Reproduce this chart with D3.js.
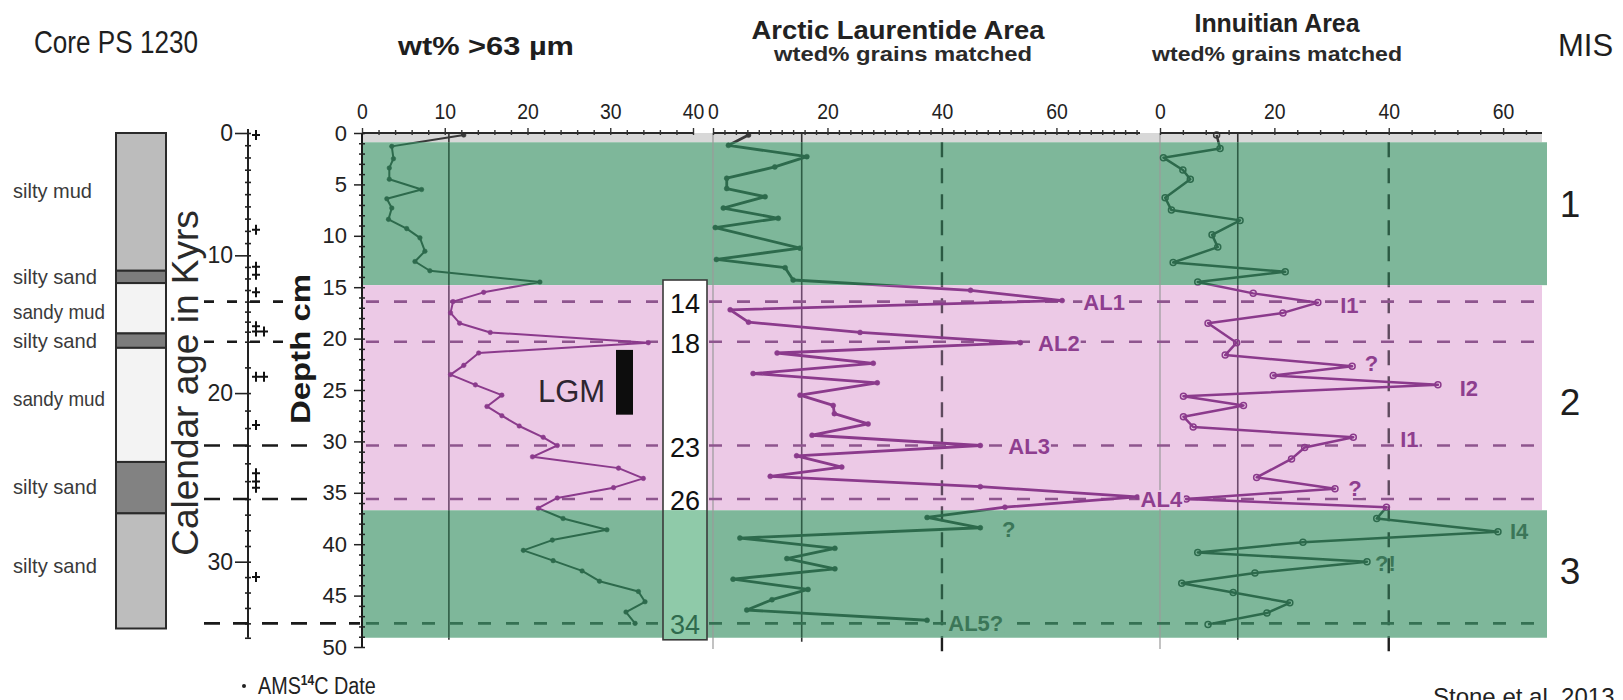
<!DOCTYPE html>
<html>
<head>
<meta charset="utf-8">
<script src="https://cdn.jsdelivr.net/npm/d3@7/dist/d3.min.js"></script>
<style>
html,body{margin:0;padding:0;background:#fff;}
svg{display:block;}
text{font-family:"Liberation Sans",Arial,Helvetica,sans-serif;}
</style>
</head>
<body>
<svg id="chart" width="1623" height="700"></svg>
<script>
// ================= DATA =================
// wt% >63 µm (depth cm, value)
const wtDepth = [0.2,1.3,2.5,3.4,4.5,5.5,6.4,7.3,8.4,9.3,10.2,11.5,12.5,13.4,14.5,15.5,16.4,17.5,18.5,19.4,20.4,21.4,22.6,23.5,24.5,25.5,26.6,27.5,28.5,29.6,30.4,31.5,32.6,33.6,34.5,35.5,36.5,37.5,38.6,39.6,40.6,41.6,42.6,43.6,44.6,45.6,46.6,47.7];
const wtVal   = [12.3,3.6,3.8,3.3,3.3,7.2,3.0,3.6,3.2,5.4,7.0,7.6,6.4,8.2,21.5,14.7,11.0,10.7,11.8,15.5,34.6,14.1,12.3,10.7,13.7,16.9,15.1,16.9,19.0,21.9,23.6,20.6,31.0,34.0,30.4,23.6,21.3,24.3,29.6,23.0,19.5,23.1,26.6,28.7,33.4,34.2,31.9,33.0];
// Arctic Laurentide Area, wted% grains matched
const alDepth = [0.2,1.2,2.3,3.3,4.4,5.4,6.2,7.3,8.3,9.2,11.2,12.3,13.1,14.3,15.3,16.3,17.2,18.4,19.4,20.4,21.4,22.4,23.4,24.3,25.5,26.5,27.3,28.3,29.4,30.4,31.4,32.5,33.4,34.4,35.4,36.4,37.4,38.4,39.4,40.4,41.4,42.4,43.4,44.4,45.4,46.4,47.4];
const alVal   = [6.2,2.7,16.4,10.8,2.4,2.4,9.1,1.8,11.4,0.4,15.2,0.6,12.6,14.0,45.0,61.0,3.0,6.2,25.7,53.7,11.2,28.0,7.0,28.7,15.2,21.0,21.2,27.1,17.3,46.7,14.6,22.5,10.0,46.7,74.1,51.0,37.4,46.7,4.7,21.3,12.9,21.3,3.5,16.6,10.3,5.9,37.4];
// Innuitian Area, wted% grains matched
const inDepth = [0.2,1.5,2.4,3.6,4.5,6.3,7.5,8.5,9.9,11.1,12.6,13.5,14.5,15.6,16.5,17.5,18.5,20.4,21.6,22.7,23.6,24.5,25.6,26.5,27.6,28.6,29.6,30.6,31.7,33.5,34.6,35.6,36.4,37.5,38.8,39.8,40.8,41.7,42.8,43.8,44.7,45.7,46.7,47.8];
const inVal   = [9.9,10.5,0.6,4.0,5.3,0.9,2.0,14.0,9.1,10.1,2.3,21.9,6.6,16.3,27.6,21.5,8.4,13.4,11.4,33.6,19.8,48.6,4.1,14.6,4.1,5.8,33.8,25.3,23.0,16.9,30.6,4.6,39.6,37.9,59.1,25.0,6.6,36.2,16.6,3.8,12.8,22.7,18.7,8.4];
// reference (mean) lines
const wtRef = 10.5, alRef = 15.5, inRef = 13.6, grainDashRef = 40;

// event horizons (depth cm) and their ages (kyr)
const horizonDepth = [16.4,20.3,30.4,35.6,47.7];
const horizonAge   = ["14","18","23","26","34"];

// MIS bands (depth cm)
const bandTop    = [0.9,14.8,36.7];
const bandBottom = [14.8,36.7,49.1];
const bandKind   = ["green","pink","green"];
const misLabel   = ["1","2","3"];
const misDepth   = [6.9,26.2,42.6];

// lithology
const lithTop    = [0.0,13.4,14.6,19.5,20.9,32.0,37.0];
const lithBottom = [13.4,14.6,19.5,20.9,32.0,37.0,48.2];
const lithShade  = ["#bcbcbc","#7c7c7c","#f3f3f3","#7c7c7c","#f3f3f3","#828282","#bdbdbd"];
const lithName   = ["silty mud","silty sand","sandy mud","silty sand","sandy mud","silty sand","silty sand"];
const lithLabelDepth = [5.7,14.1,17.5,20.3,26.0,34.5,42.2];

// age model (calendar kyr ↔ depth cm) and AMS 14C date depths
const ageAnchor      = [0,10,14,18,20,23,26,30,34,35];
const ageAnchorDepth = [0,11.9,16.4,20.3,25.3,30.4,35.6,41.7,47.7,49.1];
const ageMajorTicks  = [0,10,20,30];
const amsDepth = [0.2,9.4,13.0,13.8,15.5,18.8,19.3,19.3,23.7,23.7,28.4,33.1,33.9,34.5,43.2];

// LGM interval (depth cm)
const lgmDepth = [21.1,27.4];

// panel annotations
const annText  = ["AL1","AL2","AL3","AL4","?","AL5?","I1","?","I2","I1","?","I4","?!"];
const annPanel = ["AL","AL","AL","AL","AL","AL","IN","IN","IN","IN","IN","IN","IN"];
const annVal   = [64.7,56.8,51.6,74.7,50.5,41.1,31.5,35.8,52.4,42.0,32.9,61.2,37.6];
const annDepth = [17.2,21.2,31.2,36.4,39.3,48.4,17.5,23.2,25.6,30.5,35.3,39.5,42.6];

// ================= SCALES =================
const svg = d3.select("#chart");
const yD  = d3.scaleLinear().domain([0,50]).range([133,647]);
const xWt = d3.scaleLinear().domain([0,40]).range([362,693]);
const xAL = d3.scaleLinear().domain([0,74.6]).range([713,1140]);
const xIN = d3.scaleLinear().domain([0,66.8]).range([1160,1542]);
const yAge = d3.scaleLinear().domain(ageAnchor).range(ageAnchorDepth.map(d => yD(d)));

const GREEN = "#7eb79a", PINK = "#ecc9e6", STRIP = "#d8d8d8";
const MONO = '"Liberation Mono","DejaVu Sans Mono",monospace';

// ================= LITHOLOGY =================
const litho = svg.append("g");
litho.selectAll("rect").data(lithTop).join("rect")
  .attr("x",116).attr("width",50)
  .attr("y",(d)=>yD(d)).attr("height",(d,i)=>yD(lithBottom[i])-yD(d))
  .attr("fill",(d,i)=>lithShade[i]).attr("stroke","#2a2a2a").attr("stroke-width",2);
const lithW = {"silty mud":79,"silty sand":84,"sandy mud":92};
litho.selectAll("text").data(lithName).join("text")
  .attr("x",13).attr("y",(d,i)=>yD(lithLabelDepth[i])+6)
  .attr("font-size",21).attr("fill","#3a3a3a")
  .attr("textLength",d=>lithW[d]).attr("lengthAdjust","spacingAndGlyphs")
  .text(d=>d);

// ================= AGE AXIS =================
const ageAxis = d3.axisLeft(yAge).tickValues(d3.range(0,36,1)).tickSize(0).tickPadding(15)
  .tickFormat(d => ageMajorTicks.includes(d) ? d : "");
const gAge = svg.append("g").attr("transform","translate(248,0)").call(ageAxis);
gAge.select(".domain").attr("d",`M0,${yAge(0)-4}V${yAge(35)}`).attr("stroke","#222").attr("stroke-width",2);
gAge.selectAll(".tick line").attr("x1",d=>ageMajorTicks.includes(d)?-13:-3).attr("x2",3)
  .attr("stroke","#222").attr("stroke-width",1.6);
gAge.selectAll(".tick text").attr("font-size",23).attr("fill","#222").attr("font-family",'"Liberation Sans",Arial,sans-serif');

// AMS markers
const amsSeen = {};
svg.append("g").selectAll("path").data(amsDepth).join("path")
  .attr("transform",d=>{const k=amsSeen[d]||0; amsSeen[d]=k+1; return `translate(${256+k*8},${yD(d)})`;})
  .attr("d","M-4,0H4M0,-5V5").attr("stroke","#111").attr("stroke-width",2);

// age axis label
svg.append("text").attr("transform","translate(198,383) rotate(-90)")
  .attr("text-anchor","middle").attr("font-size",37).attr("fill","#2a2a2a")
  .text("Calendar age in Kyrs");

// left black dashed horizon lines
const leftEnd = [290,290,312,312,360];
svg.append("g").selectAll("line").data(horizonDepth).join("line")
  .attr("x1",204).attr("x2",(d,i)=>leftEnd[i]).attr("y1",d=>yD(d)).attr("y2",d=>yD(d))
  .attr("stroke","#1a1a1a").attr("stroke-width",2.6).attr("stroke-dasharray",(d,i)=>i<2?"10,13":"16,13");

// Depth label
svg.append("text").attr("transform","translate(310,349) rotate(-90)")
  .attr("text-anchor","middle").attr("font-size",28).attr("font-weight","bold").attr("fill","#1a1a1a")
  .attr("textLength",150).attr("lengthAdjust","spacingAndGlyphs")
  .text("Depth cm");

// ================= BANDS =================
const bands = svg.append("g");
bands.append("rect").attr("x",362).attr("width",1542-362).attr("y",yD(0)).attr("height",yD(bandTop[0])-yD(0)).attr("fill",STRIP);
bands.selectAll("rect.band").data(bandTop).join("rect").attr("class","band")
  .attr("x",362).attr("width",(d,i)=>bandKind[i]==="green"?1547-362:1542-362)
  .attr("y",d=>yD(d)).attr("height",(d,i)=>yD(bandBottom[i])-yD(d))
  .attr("fill",(d,i)=>bandKind[i]==="green"?GREEN:PINK);
// age column box
const boxTop = yD(14.3), boxBot = yD(49.3);
bands.append("rect").attr("x",663).attr("width",44).attr("y",boxTop).attr("height",yD(bandBottom[1])-boxTop).attr("fill","#ffffff");
bands.append("rect").attr("x",663).attr("width",44).attr("y",yD(bandTop[2])).attr("height",boxBot-yD(bandTop[2])).attr("fill","#8fcaa9");
bands.append("rect").attr("x",663).attr("width",44).attr("y",boxTop).attr("height",boxBot-boxTop)
  .attr("fill","none").attr("stroke","#3a3a3a").attr("stroke-width",1.6);

// panel left borders
svg.append("g").selectAll("line").data([xAL(0),xIN(0)]).join("line")
  .attr("x1",d=>d).attr("x2",d=>d).attr("y1",yD(0)).attr("y2",yD(50.2))
  .attr("stroke","#9a9a9a").attr("stroke-width",1.2);

// ================= INK (coloured by band) =================
const defs = svg.append("defs");
function clip(id, ranges){
  const cp = defs.append("clipPath").attr("id",id);
  ranges.forEach(r=>cp.append("rect").attr("x",0).attr("width",1623).attr("y",r[0]).attr("height",r[1]-r[0]));
}
clip("cOther",[[0,yD(bandTop[0])],[yD(bandBottom[2]),700]]);
clip("cGreen",[[yD(bandTop[0]),yD(bandBottom[0])],[yD(bandTop[2]),yD(bandBottom[2])]]);
clip("cPink",[[yD(bandTop[1]),yD(bandBottom[1])]]);

function drawInk(g, c){
  // solid reference lines
  [[xWt,wtRef,49.3],[xAL,alRef,49.5],[xIN,inRef,49.3]].forEach(([s,v,b])=>{
    g.append("line").attr("x1",s(v)).attr("x2",s(v)).attr("y1",yD(0)).attr("y2",yD(b))
      .attr("stroke",c.ref).attr("stroke-width",1.6);
  });
  // dashed verticals at 40
  [xAL,xIN].forEach(s=>{
    g.append("line").attr("x1",s(grainDashRef)).attr("x2",s(grainDashRef)).attr("y1",yD(0.9)).attr("y2",yD(51))
      .attr("stroke",c.vdash).attr("stroke-width",2.4).attr("stroke-dasharray","15,11");
  });
  // horizontal dashed horizons
  horizonDepth.forEach(d=>{
    [[366,658],[709,1542]].forEach(([a,b])=>{
      g.append("line").attr("x1",a).attr("x2",b).attr("y1",yD(d)).attr("y2",yD(d))
        .attr("stroke",c.hdash).attr("stroke-width",2.6).attr("stroke-dasharray","13,15");
    });
  });
  // series
  const series = [
    {x:xWt, d:wtDepth, v:wtVal, w:2.0, r:2.3, open:false},
    {x:xAL, d:alDepth, v:alVal, w:2.8, r:2.5, open:false},
    {x:xIN, d:inDepth, v:inVal, w:2.5, r:3.0, open:true}
  ];
  series.forEach(s=>{
    const pts = s.d.map((d,i)=>[s.x(s.v[i]), yD(d)]);
    g.append("path").attr("d",d3.line()(pts)).attr("fill","none")
      .attr("stroke",c.line).attr("stroke-width",s.w).attr("stroke-linejoin","round");
    g.append("g").selectAll("circle").data(pts).join("circle")
      .attr("cx",p=>p[0]).attr("cy",p=>p[1]).attr("r",s.r)
      .attr("fill",s.open?"none":c.line).attr("stroke",c.line).attr("stroke-width",s.open?1.5:0.5);
  });
}
const inkSets = [
  {id:"cOther", c:{line:"#3a3a3a", ref:"#333", vdash:"#1e1e1e", hdash:"#333"}},
  {id:"cGreen", c:{line:"#2d6a4c", ref:"#2e5c45", vdash:"#2b5a43", hdash:"#357153"}},
  {id:"cPink",  c:{line:"#8b3a8c", ref:"#6d4a6d", vdash:"#5e4a5e", hdash:"#8e558e"}}
];
inkSets.forEach(s=>{
  const g = svg.append("g").attr("clip-path",`url(#${s.id})`);
  drawInk(g, s.c);
});

// ================= TOP AXES =================
function topAxis(scale, step, labelStep){
  const maxv = scale.domain()[1];
  const ticks = d3.range(0, maxv+1e-6, step);
  const ax = d3.axisTop(scale).tickValues(ticks).tickSize(0).tickPadding(14)
    .tickFormat(d => (d % labelStep === 0 && d <= 60) ? d : "");
  const g = svg.append("g").attr("transform",`translate(0,${yD(0)})`).call(ax);
  g.select(".domain").attr("d",`M${scale.range()[0]},0H${scale.range()[1]}`)
    .attr("stroke","#2a2a2a").attr("stroke-width",1.8);
  g.selectAll(".tick line").attr("y1",2).attr("y2",d=>d%labelStep===0?-5:-3)
    .attr("stroke","#333").attr("stroke-width",1.4);
  g.selectAll(".tick text").attr("font-size",22).attr("fill","#222")
    .attr("font-family",'"Liberation Sans",Arial,sans-serif')
    .attr("textLength",function(d){const t=this.textContent; return t? t.length*10.8 : null;})
    .attr("lengthAdjust","spacingAndGlyphs");
}
topAxis(xWt,2,10);
topAxis(xAL,2,20);
topAxis(xIN,4,20);

// ================= DEPTH AXIS =================
const depthAxis = d3.axisLeft(yD).tickValues(d3.range(0,51,1)).tickSize(0).tickPadding(15)
  .tickFormat(d => d%5===0 ? d : "");
const gDepth = svg.append("g").attr("transform","translate(362,0)").call(depthAxis);
gDepth.select(".domain").attr("d",`M0,${yD(0)}V${yD(50)}`).attr("stroke","#1a1a1a").attr("stroke-width",2);
gDepth.selectAll(".tick line").attr("x1",d=>d%5===0?-8:-3).attr("x2",3).attr("stroke","#222").attr("stroke-width",1.5);
gDepth.selectAll(".tick text").attr("font-size",22).attr("fill","#222")
  .attr("font-family",'"Liberation Sans",Arial,sans-serif');

// ================= ANNOTATIONS =================
const annG = svg.append("g");
annText.forEach((t,i)=>{
  const s = annPanel[i]==="AL" ? xAL : xIN;
  const x = s(annVal[i]), y = yD(annDepth[i]);
  const inPink = annDepth[i]-0.8 < bandBottom[1];
  const onLine = horizonDepth.some(h=>Math.abs(h-(annDepth[i]-0.8))<1.3);
  const txt = annG.append("text").attr("x",x).attr("y",y).attr("font-family",MONO)
    .attr("font-size",22).attr("font-weight","bold").attr("fill",inPink?"#8e3e8f":"#3b7658").text(t);
  if(onLine){
    const bb = txt.node().getBBox();
    annG.insert("rect","text").attr("x",bb.x-1).attr("y",bb.y+3).attr("width",bb.width+2).attr("height",bb.height-6)
      .attr("fill",inPink?PINK:GREEN);
  }
});

// age labels in box
svg.append("g").selectAll("text").data(horizonAge).join("text")
  .attr("x",685).attr("y",(d,i)=>yD(horizonDepth[i])+11).attr("text-anchor","middle")
  .attr("font-size",27).attr("fill",(d,i)=>horizonDepth[i]>bandTop[2]?"#2f6a4d":"#111")
  .text(d=>d);

// LGM
svg.append("text").attr("x",538).attr("y",yD(lgmDepth[0])+52).attr("font-size",31).attr("fill","#2e2530").text("LGM");
svg.append("rect").attr("x",616).attr("width",17).attr("y",yD(lgmDepth[0])).attr("height",yD(lgmDepth[1])-yD(lgmDepth[0])).attr("fill","#0d0d0d");

// MIS labels
svg.append("g").selectAll("text").data(misLabel).join("text")
  .attr("x",1570).attr("y",(d,i)=>yD(misDepth[i])+13).attr("text-anchor","middle")
  .attr("font-size",37).attr("fill","#1e1e1e").text(d=>d);

// ================= TITLES =================
svg.append("text").attr("x",34).attr("y",53).attr("font-size",31).attr("fill","#1e1e1e")
  .attr("textLength",164).attr("lengthAdjust","spacingAndGlyphs").text("Core PS 1230");
svg.append("text").attr("x",398).attr("y",55).attr("font-size",25).attr("font-weight","bold").attr("fill","#1e1e1e")
  .attr("textLength",176).attr("lengthAdjust","spacingAndGlyphs").text("wt% >63 µm");
svg.append("text").attr("x",898).attr("y",39).attr("text-anchor","middle").attr("font-size",25).attr("font-weight","bold").attr("fill","#222")
  .attr("textLength",293).attr("lengthAdjust","spacingAndGlyphs").text("Arctic Laurentide Area");
svg.append("text").attr("x",903).attr("y",61).attr("text-anchor","middle").attr("font-size",21).attr("font-weight","bold").attr("fill","#2a2a2a")
  .attr("textLength",258).attr("lengthAdjust","spacingAndGlyphs").text("wted% grains matched");
svg.append("text").attr("x",1277).attr("y",32).attr("text-anchor","middle").attr("font-size",25).attr("font-weight","bold").attr("fill","#222")
  .attr("textLength",165).attr("lengthAdjust","spacingAndGlyphs").text("Innuitian Area");
svg.append("text").attr("x",1277).attr("y",61).attr("text-anchor","middle").attr("font-size",21).attr("font-weight","bold").attr("fill","#2a2a2a")
  .attr("textLength",250).attr("lengthAdjust","spacingAndGlyphs").text("wted% grains matched");
svg.append("text").attr("x",1558).attr("y",56).attr("font-size",31).attr("fill","#1e1e1e").text("MIS");

// AMS legend
svg.append("circle").attr("cx",244).attr("cy",686).attr("r",2).attr("fill","#222");
const legG = svg.append("g").attr("transform","translate(258,694) scale(0.86,1)");
const leg = legG.append("text").attr("x",0).attr("y",0).attr("font-size",23).attr("fill","#222");
leg.append("tspan").text("AMS");
leg.append("tspan").attr("font-size",14).attr("font-weight","bold").attr("dy",-9).text("14");
leg.append("tspan").attr("dy",9).text("C Date");

// credit (partly cut at the bottom edge, as in the source)
svg.append("text").attr("x",1433).attr("y",705).attr("font-size",24).attr("fill","#222").text("Stone et al. 2013");
</script>
</body>
</html>
